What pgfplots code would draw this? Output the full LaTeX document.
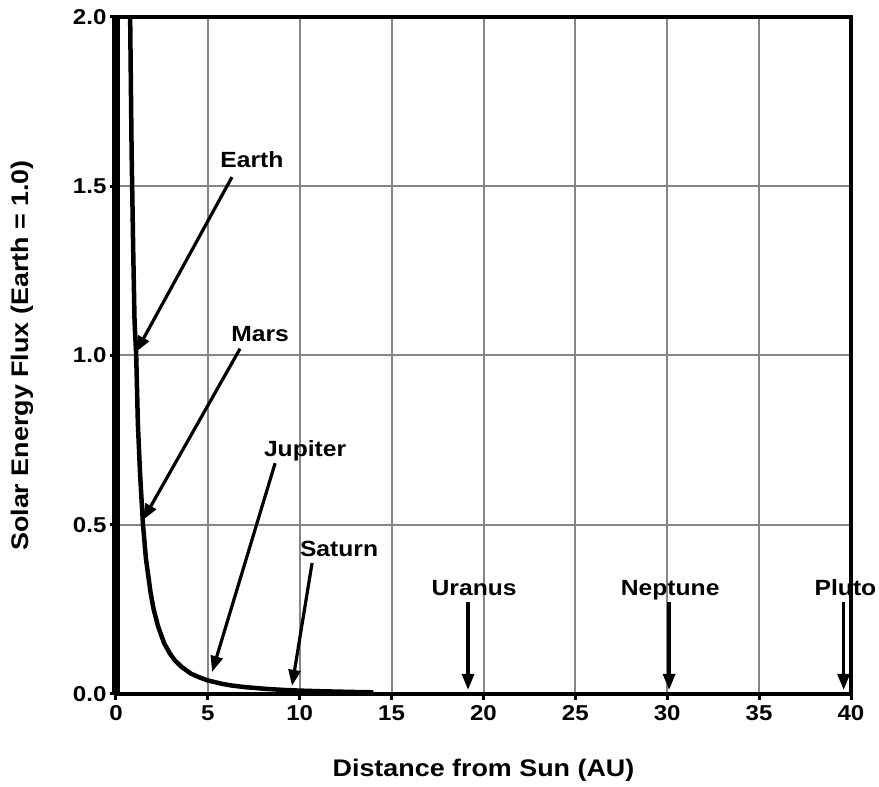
\documentclass[border=0pt]{standalone}
\usepackage{fontspec}
\setmainfont{Liberation Sans}[FakeStretch=1.12]
\usepackage{pgfplots}
\pgfplotsset{compat=1.18}
\usetikzlibrary{arrows.meta}
\begin{document}
\begin{tikzpicture}
\begin{axis}[name=ax, width=735pt, height=677pt, scale only axis,
  xmin=0, xmax=40, ymin=0, ymax=2,
  xtick={0,5,...,40}, ytick={0,0.5,1,1.5,2},
  grid=major, major grid style={line width=2pt, color=black!48},
  axis line style={line width=4.5pt},
  tick align=outside, xtick pos=bottom, ytick pos=left,
  major tick length=6pt, tick style={line width=3pt, black},
  ticklabel style={font=\fontsize{21.5}{25}\selectfont\bfseries},
  /pgf/number format/assume math mode=true,
  yticklabel style={/pgf/number format/.cd, fixed, fixed zerofill, precision=1},
  xticklabel style={yshift=-2pt},
  clip=false]
\addplot[black, line width=4.5pt, line join=round] coordinates {
(0.77,2.0) (0.85,1.6) (0.94,1.3) (1.01,1.1) (1.1,1.0) (1.19,0.8) (1.31,0.65)
(1.47,0.5) (1.63,0.4) (1.88,0.3) (2.05,0.25) (2.29,0.2) (2.62,0.15) (2.93,0.12)
(3.19,0.1) (3.57,0.08) (4.08,0.06) (4.5,0.05) (5.0,0.04) (5.77,0.03) (6.3,0.025)
(7.07,0.02) (8.2,0.015) (9.1,0.012) (10.0,0.01) (11.2,0.008) (12.9,0.006) (14.0,0.005)};
\draw[line width=7.5pt] (axis cs:0,0) -- (axis cs:0,2);
\tikzset{arr/.style={line width=3.2pt, -{Triangle[length=16pt,width=12pt]}},
  lab/.style={font=\fontsize{22}{26}\selectfont\bfseries, text height=16pt, text depth=0pt}}
\draw[arr] (axis cs:6.31,1.527) -- (axis cs:1.09,1.01);
\draw[arr] (axis cs:6.75,1.02) -- (axis cs:1.47,0.514);
\draw[arr] (axis cs:8.66,0.682) -- (axis cs:5.23,0.065);
\draw[arr] (axis cs:10.67,0.387) -- (axis cs:9.58,0.024);
\draw[arr] (axis cs:19.16,0.272) -- (axis cs:19.16,0.012);
\draw[arr] (axis cs:30.1,0.272) -- (axis cs:30.1,0.012);
\draw[arr] (axis cs:39.6,0.272) -- (axis cs:39.6,0.012);
\node[lab] at (axis cs:7.4,1.578) {Earth};
\node[lab] at (axis cs:7.84,1.066) {Mars};
\node[lab] at (axis cs:10.29,0.724) {Jupiter};
\node[lab] at (axis cs:12.14,0.431) {Saturn};
\node[lab] at (axis cs:19.49,0.316) {Uranus};
\node[lab] at (axis cs:30.16,0.316) {Neptune};
\node[lab] at (axis cs:39.7,0.316) {Pluto};
\draw[line width=4.5pt] (axis cs:40,0) -- (axis cs:40,2);
\end{axis}
\node[rotate=90, font=\fontsize{24}{28}\selectfont\bfseries] at ([xshift=-94pt]ax.west) {Solar Energy Flux (Earth = 1.0)};
\node[font=\fontsize{24}{28}\selectfont\bfseries] at ([yshift=-76pt]ax.south) {Distance from Sun (AU)};
\pgfresetboundingbox
\path (ax.south west) ++(-116pt,-93pt) rectangle ++(879pt,787pt);
\end{tikzpicture}
\end{document}
